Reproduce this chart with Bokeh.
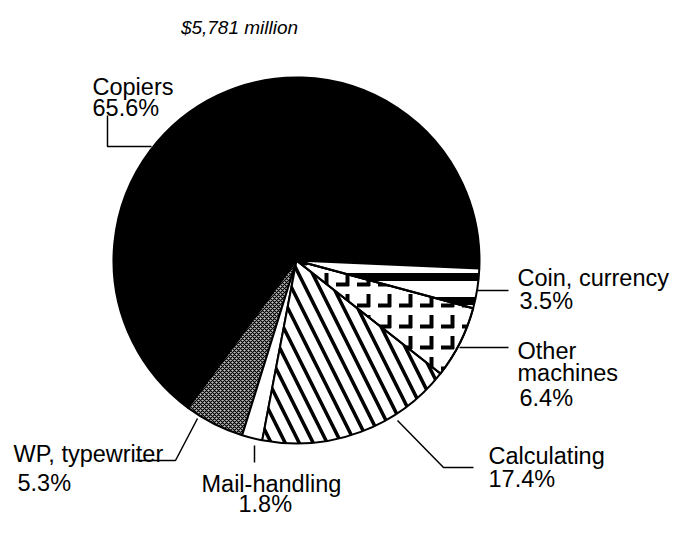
import math
from bokeh.plotting import figure
from bokeh.models import Range1d, ColumnDataSource
from bokeh.embed import file_html
from bokeh.resources import INLINE
from bokeh.core.properties import value

# ---- data ----
title = "$5,781 million"
categories = ["Copiers", "WP, typewriter", "Mail-handling", "Calculating", "Other machines", "Coin, currency"]
shares = [65.6, 5.3, 1.8, 17.4, 6.4, 3.5]
pct_labels = ["65.6%", "5.3%", "1.8%", "17.4%", "6.4%", "3.5%"]

# ---- layout / style ----
W, H = 673, 519
FONT = "Liberation Sans"


def sy(y):
    # picture pixel y -> data y
    return H - y


cx, cy, R = 296, sy(260), 183
start0 = math.radians(-2.5)

fills = ["black", "#bdbdbd", "white", "white", "white", "white"]
hatches = [" ", "x", " ", "\\", '"', "-"]
hscale = [10, 4, 10, 28, 21, 24]
hweight = [1, 1.2, 1, 3.5, 4, 8]

total = sum(shares)
starts, ends = [], []
acc = 0.0
for s in shares:
    starts.append(start0 + 2 * math.pi * acc / total)
    acc += s
    ends.append(start0 + 2 * math.pi * acc / total)

p = figure(width=W, height=H, x_range=Range1d(0, W), y_range=Range1d(0, H),
           output_backend="svg", toolbar_location=None, min_border=0,
           x_axis_type=None, y_axis_type=None)
p.grid.visible = False
p.outline_line_color = None
p.title.visible = False

src = ColumnDataSource(dict(
    x=[cx] * len(shares), y=[cy] * len(shares), start=starts, end=ends,
    fill=fills, hatch=hatches, hs=hscale, hw=hweight, cat=categories))

p.wedge(x="x", y="y", radius=R, start_angle="start", end_angle="end",
        direction="anticlock", source=src, fill_color="fill",
        hatch_pattern="hatch", hatch_scale="hs", hatch_weight="hw",
        hatch_color="black", line_color="black", line_width=2)

# extra vertical dashes for "Other machines" to get L-like marks
oi = categories.index("Other machines")
p.wedge(x=[cx], y=[cy], radius=R, start_angle=[starts[oi]], end_angle=[ends[oi]],
        direction="anticlock", fill_alpha=0, hatch_pattern=":", hatch_scale=21,
        hatch_weight=4, hatch_color="black", line_color="black", line_width=2)

# title
p.text(x=[239], y=[sy(27)], text=[title], text_font=value(FONT),
       text_font_style="italic", text_font_size="19px",
       text_align="center", text_baseline="alphabetic", text_color="black")

# labels
name_lines = {
    "Other machines": ["Other", "machines"],
}
label_pos = [
    (92, [86, 107]),          # Copiers
    (13, [453, 482]),         # WP
    (201, [483, 503]),        # Mail
    (488, [455, 478]),        # Calculating
    (517, [350, 372, 397]),   # Other
    (517, [277, 300]),        # Coin
]
pct_dx = [0, 4, 37, 0, 2, 2]

tx, ty, tt = [], [], []
for i, cat in enumerate(categories):
    lines = name_lines.get(cat, [cat]) + [pct_labels[i]]
    x0, bases = label_pos[i]
    for j, (ln, b) in enumerate(zip(lines, bases)):
        tx.append(x0 + (pct_dx[i] if j == len(lines) - 1 else 0))
        ty.append(sy(b))
        tt.append(ln)

p.text(x=tx, y=ty, text=tt, text_font=value(FONT), text_font_size="23.5px",
       text_align="left", text_baseline="alphabetic", text_color="black")

# leader lines (picture coordinates)
leaders = [
    [(107, 115), (107, 146), (151, 146)],
    [(197, 418), (175, 460), (135, 460)],
    [(254, 445), (254, 462)],
    [(397, 420), (443, 467), (473, 467)],
    [(459, 347), (508, 347)],
    [(477, 290), (508, 290)],
]
p.multi_line(xs=[[pt[0] for pt in l] for l in leaders],
             ys=[[sy(pt[1]) for pt in l] for l in leaders],
             line_color="black", line_width=1.5)

open("out.html", "w").write(file_html(p, INLINE))
